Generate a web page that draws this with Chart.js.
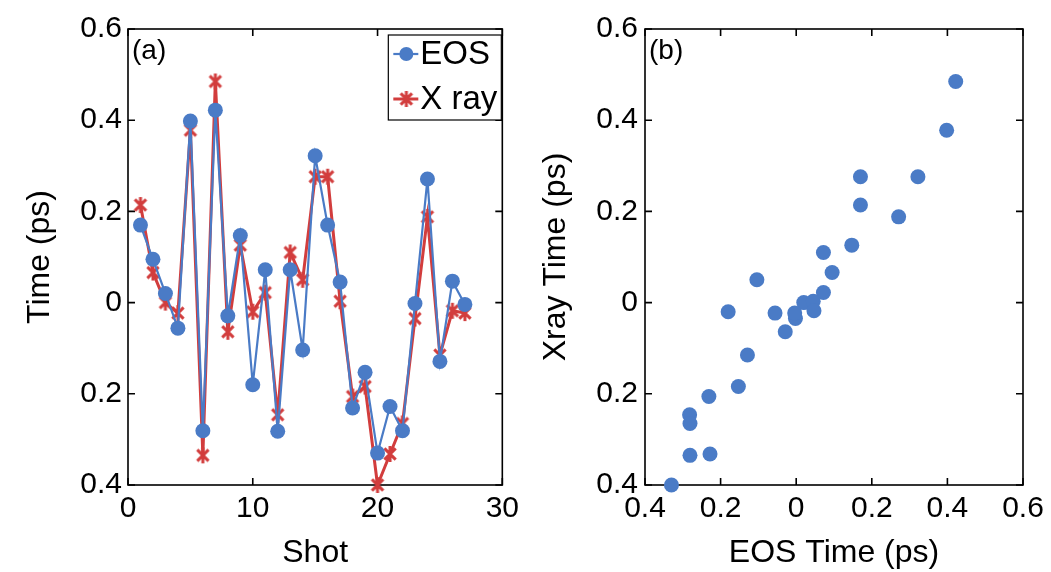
<!DOCTYPE html>
<html>
<head>
<meta charset="utf-8">
<script src="https://cdn.jsdelivr.net/npm/chart.js@4/dist/chart.umd.min.js"></script>
<style>
  html, body { margin: 0; padding: 0; background: #fff; }
  #wrap { position: relative; width: 1051px; height: 572px; overflow: hidden; }
  .panel { position: absolute; top: 0; }
  #panelA { left: 0; }
  #panelB { left: 525px; }
</style>
</head>
<body>
<div id="wrap">
  <div class="panel" id="panelA"><canvas id="chartShots" width="525" height="572"></canvas></div>
  <div class="panel" id="panelB"><canvas id="chartCorr" width="526" height="572"></canvas></div>
</div>
<script>
// arrival time per shot, measured two ways (ps)
const shots = [1, 2, 3, 4, 5, 6, 7, 8, 9, 10, 11, 12, 13, 14, 15, 16, 17, 18, 19, 20, 21, 22, 23, 24, 25, 26, 27];
const eosTime = [0.17, 0.095, 0.02, -0.056, 0.398, -0.281, 0.422, -0.029, 0.147, -0.18, 0.072, -0.282, 0.072, -0.104,
  0.322, 0.17, 0.045, -0.231, -0.153, -0.33, -0.228, -0.281, -0.002, 0.271, -0.129, 0.047, -0.004];
const xrayTime = [0.214, 0.066, 0.0, -0.023, 0.378, -0.335, 0.485, -0.064, 0.126, -0.02, 0.022, -0.246, 0.11, 0.05,
  0.276, 0.276, 0.003, -0.206, -0.184, -0.4, -0.332, -0.265, -0.035, 0.188, -0.115, -0.018, -0.023];

// tick labels as printed (no minus signs)
const timeTickLabels = ['0.4', '0.2', '0', '0.2', '0.4', '0.6'];
const eosTickLabels = ['0.4', '0.2', '0', '0.2', '0.4', '0.6'];

const BLUE = '#4a7bc6';
const RED = '#d23d3d';
const FONT = "'Liberation Sans', Arial, Helvetica, sans-serif";

// asterisk marker: vertical bar plus two diagonals
function asterisk(size, color, lw) {
  const c = document.createElement('canvas');
  c.width = c.height = size;
  const g = c.getContext('2d');
  const m = size / 2, r = size / 2 - 1;
  const d = r * Math.SQRT1_2;
  g.strokeStyle = color;
  g.lineWidth = lw;
  g.beginPath();
  g.moveTo(m, m - r); g.lineTo(m, m + r);
  g.moveTo(m - d, m - d); g.lineTo(m + d, m + d);
  g.moveTo(m - d, m + d); g.lineTo(m + d, m - d);
  g.stroke();
  return c;
}
const starMark = asterisk(18, RED, 3);

// box around the plot with inward ticks on every side
const framePlugin = {
  id: 'frame',
  beforeDatasetsDraw(chart) {
    const { ctx, chartArea: a, scales: { x, y } } = chart;
    const len = 7;
    ctx.save();
    ctx.strokeStyle = '#000';
    ctx.lineWidth = 1.6;
    ctx.strokeRect(a.left, a.top, a.right - a.left, a.bottom - a.top);
    ctx.beginPath();
    x.ticks.forEach(t => {
      const px = x.getPixelForValue(t.value);
      ctx.moveTo(px, a.bottom); ctx.lineTo(px, a.bottom - len);
      ctx.moveTo(px, a.top); ctx.lineTo(px, a.top + len);
    });
    y.ticks.forEach(t => {
      const py = y.getPixelForValue(t.value);
      ctx.moveTo(a.left, py); ctx.lineTo(a.left + len, py);
      ctx.moveTo(a.right, py); ctx.lineTo(a.right - len, py);
    });
    ctx.stroke();
    ctx.restore();
  }
};

// "(a)" / "(b)" in the top-left corner
const tagPlugin = {
  id: 'panelTag',
  afterDatasetsDraw(chart, args, opts) {
    const { ctx, chartArea: a } = chart;
    ctx.save();
    ctx.font = '28px ' + FONT;
    ctx.fillStyle = '#000';
    ctx.textBaseline = 'middle';
    ctx.fillText(opts.text, a.left + 4, a.top + 22);
    ctx.restore();
  }
};

// boxed legend in the top-right corner, line + marker per series
const boxLegend = {
  id: 'boxLegend',
  afterDatasetsDraw(chart) {
    const { ctx, chartArea: a } = chart;
    const w = 113, h = 85;
    const x0 = a.right - w - 1, y0 = a.top + 6;
    ctx.save();
    ctx.fillStyle = '#fff';
    ctx.fillRect(x0, y0, w, h);
    ctx.strokeStyle = '#000';
    ctx.lineWidth = 1.2;
    ctx.strokeRect(x0, y0, w, h);
    ctx.font = '33px ' + FONT;
    ctx.textBaseline = 'middle';
    chart.data.datasets.forEach((ds, i) => {
      const cy = y0 + 19 + i * 45;
      ctx.strokeStyle = ds.borderColor;
      ctx.lineWidth = ds.borderWidth;
      ctx.beginPath();
      ctx.moveTo(x0 + 5, cy); ctx.lineTo(x0 + 30, cy);
      ctx.stroke();
      if (ds.pointStyle === 'circle') {
        ctx.fillStyle = ds.pointBackgroundColor;
        ctx.beginPath();
        ctx.arc(x0 + 18, cy, 7, 0, Math.PI * 2);
        ctx.fill();
      } else {
        ctx.drawImage(ds.pointStyle, x0 + 9, cy - 9);
      }
      ctx.fillStyle = '#000';
      ctx.fillText(ds.label, x0 + 32, cy + 1);
    });
    ctx.restore();
  }
};

function axis(opts) {
  return Object.assign({
    type: 'linear',
    grid: { display: false, drawTicks: false },
    border: { display: false },
  }, opts);
}

const tickFont = { family: FONT, size: 30 };
const titleFont = { family: FONT, size: 32 };

new Chart(document.getElementById('chartShots'), {
  type: 'line',
  data: {
    datasets: [{
      label: 'EOS',
      data: shots.map((s, i) => ({ x: s, y: eosTime[i] })),
      borderColor: BLUE,
      borderWidth: 2.2,
      pointStyle: 'circle',
      pointRadius: 7.5,
      pointBackgroundColor: BLUE,
      pointBorderWidth: 0,
      tension: 0,
      clip: false
    }, {
      label: 'X ray',
      data: shots.map((s, i) => ({ x: s, y: xrayTime[i] })),
      borderColor: RED,
      borderWidth: 3,
      pointStyle: starMark,
      pointRadius: 9,
      tension: 0,
      clip: false
    }]
  },
  options: {
    responsive: false,
    animation: false,
    layout: { padding: { top: 29, right: 17, left: 0, bottom: 0 } },
    plugins: { legend: { display: false }, tooltip: { enabled: false }, panelTag: { text: '(a)' } },
    scales: {
      x: axis({
        min: 0, max: 30,
        ticks: { stepSize: 10, font: tickFont, color: '#000', padding: 6, maxRotation: 0 },
        title: { display: true, text: 'Shot', font: titleFont, color: '#000', padding: 0 },
        afterFit: s => { s.height = 87; }
      }),
      y: axis({
        min: -0.4, max: 0.6,
        ticks: { stepSize: 0.2, font: tickFont, color: '#000', padding: 6, callback: (v, i) => timeTickLabels[i] },
        title: { display: true, text: 'Time (ps)', font: titleFont, color: '#000', padding: { top: 21, bottom: 0 } },
        afterFit: s => { s.width = 128; }
      })
    }
  },
  plugins: [framePlugin, tagPlugin, boxLegend]
});

new Chart(document.getElementById('chartCorr'), {
  type: 'scatter',
  data: {
    datasets: [{
      label: 'Xray vs EOS',
      data: eosTime.map((e, i) => ({ x: e, y: xrayTime[i] })),
      pointStyle: 'circle',
      pointRadius: 7.5,
      pointBackgroundColor: BLUE,
      pointBorderWidth: 0,
      clip: false
    }]
  },
  options: {
    responsive: false,
    animation: false,
    layout: { padding: { top: 29, right: 28, left: 0, bottom: 0 } },
    plugins: { legend: { display: false }, tooltip: { enabled: false }, panelTag: { text: '(b)' } },
    scales: {
      x: axis({
        min: -0.4, max: 0.6,
        ticks: { stepSize: 0.2, font: tickFont, color: '#000', padding: 6, maxRotation: 0, callback: (v, i) => eosTickLabels[i] },
        title: { display: true, text: 'EOS Time (ps)', font: titleFont, color: '#000', padding: 0 },
        afterFit: s => { s.height = 87; }
      }),
      y: axis({
        min: -0.4, max: 0.6,
        ticks: { stepSize: 0.2, font: tickFont, color: '#000', padding: 7, callback: (v, i) => timeTickLabels[i] },
        title: { display: true, text: 'Xray Time (ps)', font: titleFont, color: '#000', padding: { top: 12, bottom: 0 } },
        afterFit: s => { s.width = 120; }
      })
    }
  },
  plugins: [framePlugin, tagPlugin]
});
</script>
</body>
</html>
